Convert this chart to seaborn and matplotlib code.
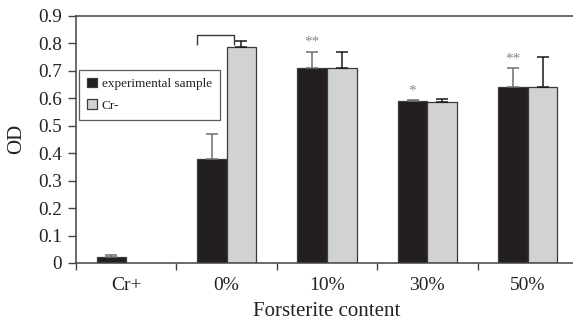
import numpy as np
import pandas as pd
import matplotlib
matplotlib.use("Agg")
import matplotlib.pyplot as plt
import seaborn as sns

categories = ["Cr+", "0%", "10%", "30%", "50%"]
exp_vals = [0.02, 0.38, 0.708, 0.590, 0.639]
exp_err = [0.008, 0.088, 0.061, 0.003, 0.069]
crm_vals = [np.nan, 0.787, 0.708, 0.587, 0.639]
crm_err = [np.nan, 0.022, 0.061, 0.010, 0.109]
stars = ["", "", "**", "*", "**"]
series = ["experimental sample", "Cr-"]

sns.set_theme(style="white")
plt.rcParams["font.family"] = ["Liberation Serif", "DejaVu Serif"]

df = pd.DataFrame({
    "cat": categories * 2,
    "series": [series[0]] * 5 + [series[1]] * 5,
    "val": exp_vals + crm_vals,
})

fig = plt.figure(figsize=(5.73, 3.25), dpi=100)
ax = fig.add_axes([0.1326, 0.1908, 0.876, 0.761])

sns.barplot(data=df, x="cat", y="val", hue="series", order=categories,
            hue_order=series, palette=["#231f20", "#d1d2d4"], width=0.59,
            errorbar=None, edgecolor="#3a3a3a", linewidth=0.9, ax=ax,
            saturation=1)

vals = [exp_vals, crm_vals]
errs = [exp_err, crm_err]
ecols = ["#6e6e6e", "#1a1a1a"]
exp_left = {}
for k, cont in enumerate(ax.containers[:2]):
    for p in cont:
        if not np.isfinite(p.get_height()) or p.get_height() == 0:
            continue
        xc = p.get_x() + p.get_width() / 2
        i = int(round(xc))
        if not np.isfinite(vals[k][i]):
            continue
        ax.errorbar([xc], [vals[k][i]], yerr=[[0], [errs[k][i]]], fmt="none",
                    ecolor=ecols[k], elinewidth=1.1, capsize=4, capthick=1.1)
        if k == 0:
            exp_left[i] = p.get_x()
            if stars[i]:
                ax.text(xc, vals[k][i] + errs[k][i] + 0.01, stars[i],
                        ha="center", va="bottom", fontsize=11, color="#8a8a8a")

# bracket over 0%
bx0 = exp_left[1]
bx1 = 1.07
ax.plot([bx0, bx0, bx1, bx1], [0.795, 0.83, 0.83, 0.795], color="#3a3a3a",
        lw=1.0, solid_capstyle="butt")

ax.set_xlim(-0.5, 4.5)
ax.set_ylim(0, 0.9)
ax.set_yticks(np.arange(0, 0.91, 0.1))
ax.set_yticklabels(["0"] + [f"{v:.1f}" for v in np.arange(0.1, 0.91, 0.1)])
ax.set_xticks(range(5))
ax.set_xticklabels(categories)
ax.set_xticks(np.arange(-0.5, 4.6, 1), minor=True)
ax.tick_params(axis="x", which="major", length=0, labelsize=14, pad=10,
               colors="#222222")
ax.tick_params(axis="x", which="minor", length=5, width=1, direction="out",
               color="#444444", bottom=True)
ax.tick_params(axis="y", length=6, width=1, direction="out", left=True,
               labelsize=13.8, colors="#222222", color="#444444", pad=4)
ax.set_xlabel("Forsterite content", fontsize=15, color="#222222", labelpad=6)
ax.set_ylabel("OD", fontsize=15, color="#222222", labelpad=9)

for s in ["left", "bottom", "top"]:
    ax.spines[s].set_visible(True)
    ax.spines[s].set_color("#444444")
    ax.spines[s].set_linewidth(1.1)
ax.spines["right"].set_visible(False)

leg = ax.legend(loc="upper left", bbox_to_anchor=(0.007, 0.78), fontsize=9.5,
                frameon=True, fancybox=False, edgecolor="#333333",
                handlelength=0.7, handleheight=0.7, handletextpad=0.4,
                borderpad=0.6, labelspacing=0.7, borderaxespad=0)
leg.get_frame().set_linewidth(0.9)
for t in leg.get_texts():
    t.set_color("#222222")

fig.savefig("out.png", dpi=100)
